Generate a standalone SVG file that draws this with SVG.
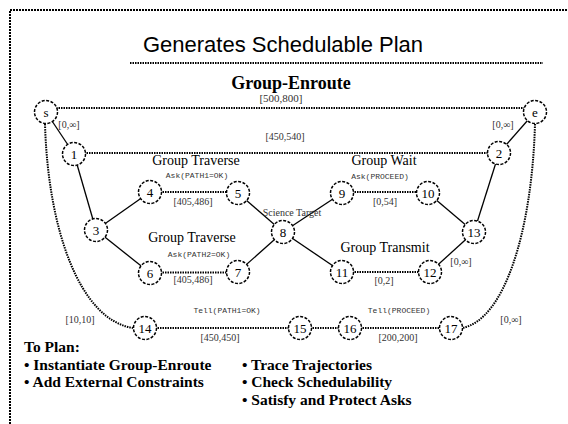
<svg xmlns="http://www.w3.org/2000/svg" width="568" height="424" viewBox="0 0 568 424">
<style>
.frame{fill:none;stroke:#000;stroke-width:2;stroke-dasharray:2 1}
.dash{fill:none;stroke:#000;stroke-width:2;stroke-dasharray:1.5 1}
.solid{fill:none;stroke:#000;stroke-width:1.3}
.node circle{fill:#fff;stroke:#000;stroke-width:1.5;stroke-dasharray:3 1.5}
.node text{font-family:"Liberation Serif",serif;font-size:13px;text-anchor:middle;fill:#000}
.lbl{font-family:"Liberation Serif",serif;font-size:10px;text-anchor:middle;fill:#333}
.mono{font-family:"Liberation Mono",monospace;font-size:8px;text-anchor:middle;fill:#333}
.grp{font-family:"Liberation Serif",serif;font-size:14px;text-anchor:middle;fill:#000}
.plan{font-family:"Liberation Serif",serif;font-size:15.5px;font-weight:bold;fill:#000}
</style>
<rect width="568" height="424" fill="#fff"/>
<path class="frame" d="M10,424 V10 H568"/>
<text x="283" y="52" font-family="Liberation Sans,Arial,sans-serif" font-size="22" text-anchor="middle">Generates Schedulable Plan</text>
<line class="dash" x1="130" y1="63" x2="543" y2="63"/>
<text x="291" y="89" font-family="Liberation Serif,serif" font-size="18" font-weight="bold" text-anchor="middle">Group-Enroute</text>
<text x="281" y="102" font-family="Liberation Serif,serif" font-size="11" text-anchor="middle" fill="#333">[500,800]</text>
<g id="connectors">
<line class="dash" x1="46" y1="108" x2="535" y2="108"/>
<line class="dash" x1="74" y1="153" x2="499" y2="153"/>
<line class="dash" x1="150" y1="192" x2="238" y2="192"/>
<line class="dash" x1="150" y1="272.5" x2="238" y2="272.5"/>
<line class="dash" x1="342" y1="192" x2="428" y2="192"/>
<line class="dash" x1="342" y1="272" x2="430" y2="272"/>
<line class="dash" x1="145" y1="328" x2="451" y2="328"/>
<path class="dash" d="M45,124 C48,230 80,320 133,328"/>
<path class="dash" d="M535,124 C532,230 505,320 462,328"/>
<line class="solid" x1="46" y1="112" x2="74" y2="154"/>
<line class="solid" x1="535" y1="112" x2="499" y2="153"/>
<line class="solid" x1="74" y1="154" x2="96" y2="230"/>
<line class="solid" x1="96" y1="230" x2="150" y2="192"/>
<line class="solid" x1="96" y1="230" x2="150" y2="273"/>
<line class="solid" x1="238" y1="193" x2="283" y2="232"/>
<line class="solid" x1="238" y1="272" x2="283" y2="232"/>
<line class="solid" x1="283" y1="232" x2="342" y2="193"/>
<line class="solid" x1="283" y1="232" x2="342" y2="272"/>
<line class="solid" x1="428" y1="193" x2="474" y2="232"/>
<line class="solid" x1="430" y1="272" x2="474" y2="232"/>
<line class="solid" x1="474" y1="232" x2="499" y2="153"/>
</g>
<g id="node-s" class="node"><circle cx="46" cy="112" r="11.5"/><text x="46" y="116.5">s</text></g>
<g id="node-e" class="node"><circle cx="535" cy="112" r="11.5"/><text x="535" y="116.5">e</text></g>
<g id="node-1" class="node"><circle cx="74" cy="154" r="11.5"/><text x="74" y="158.5">1</text></g>
<g id="node-2" class="node"><circle cx="499" cy="153" r="11.5"/><text x="499" y="157.5">2</text></g>
<g id="node-3" class="node"><circle cx="96" cy="230" r="11.5"/><text x="96" y="234.5">3</text></g>
<g id="node-4" class="node"><circle cx="150" cy="192" r="11.5"/><text x="150" y="196.5">4</text></g>
<g id="node-5" class="node"><circle cx="238" cy="193" r="11.5"/><text x="238" y="197.5">5</text></g>
<g id="node-6" class="node"><circle cx="150" cy="273" r="11.5"/><text x="150" y="277.5">6</text></g>
<g id="node-7" class="node"><circle cx="238" cy="272" r="11.5"/><text x="238" y="276.5">7</text></g>
<g id="node-8" class="node"><circle cx="283" cy="232" r="11.5"/><text x="283" y="236.5">8</text></g>
<g id="node-9" class="node"><circle cx="342" cy="193" r="11.5"/><text x="342" y="197.5">9</text></g>
<g id="node-10" class="node"><circle cx="428" cy="193" r="11.5"/><text x="428" y="197.5">10</text></g>
<g id="node-11" class="node"><circle cx="342" cy="272" r="11.5"/><text x="342" y="276.5">11</text></g>
<g id="node-12" class="node"><circle cx="430" cy="272" r="11.5"/><text x="430" y="276.5">12</text></g>
<g id="node-13" class="node"><circle cx="474" cy="232" r="11.5"/><text x="474" y="236.5">13</text></g>
<g id="node-14" class="node"><circle cx="145" cy="328" r="11.5"/><text x="145" y="332.5">14</text></g>
<g id="node-15" class="node"><circle cx="300" cy="328" r="11.5"/><text x="300" y="332.5">15</text></g>
<g id="node-16" class="node"><circle cx="350" cy="328" r="11.5"/><text x="350" y="332.5">16</text></g>
<g id="node-17" class="node"><circle cx="451" cy="328" r="11.5"/><text x="451" y="332.5">17</text></g>
<g id="labels">
<text class="lbl" x="69" y="128">[0,∞]</text>
<text class="lbl" x="503" y="128">[0,∞]</text>
<text class="lbl" x="285" y="140">[450,540]</text>
<text class="grp" x="196" y="165">Group Traverse</text>
<text class="mono" x="197" y="178">Ask(PATH1=OK)</text>
<text class="lbl" x="193" y="205">[405,486]</text>
<text class="grp" x="192" y="242">Group Traverse</text>
<text class="mono" x="199" y="257">Ask(PATH2=OK)</text>
<text class="lbl" x="193" y="283">[405,486]</text>
<text class="lbl" x="292" y="216">Science Target</text>
<text class="grp" x="384" y="165">Group Wait</text>
<text class="mono" x="380" y="179">Ask(PROCEED)</text>
<text class="lbl" x="385" y="205">[0,54]</text>
<text class="grp" x="385" y="252">Group Transmit</text>
<text class="lbl" x="461" y="265">[0,∞]</text>
<text class="lbl" x="384" y="284">[0,2]</text>
<text class="lbl" x="80" y="323">[10,10]</text>
<text class="mono" x="227" y="313">Tell(PATH1=OK)</text>
<text class="lbl" x="220" y="341">[450,450]</text>
<text class="mono" x="399" y="313">Tell(PROCEED)</text>
<text class="lbl" x="398" y="341">[200,200]</text>
<text class="lbl" x="511" y="323">[0,∞]</text>
</g>
<g id="plan">
<text class="plan" x="24" y="352">To Plan:</text>
<text class="plan" x="24" y="370">• Instantiate Group-Enroute</text>
<text class="plan" x="24" y="387">• Add External Constraints</text>
<text class="plan" x="242" y="370">• Trace Trajectories</text>
<text class="plan" x="242" y="387">• Check Schedulability</text>
<text class="plan" x="242" y="405">• Satisfy and Protect Asks</text>
</g>
</svg>
